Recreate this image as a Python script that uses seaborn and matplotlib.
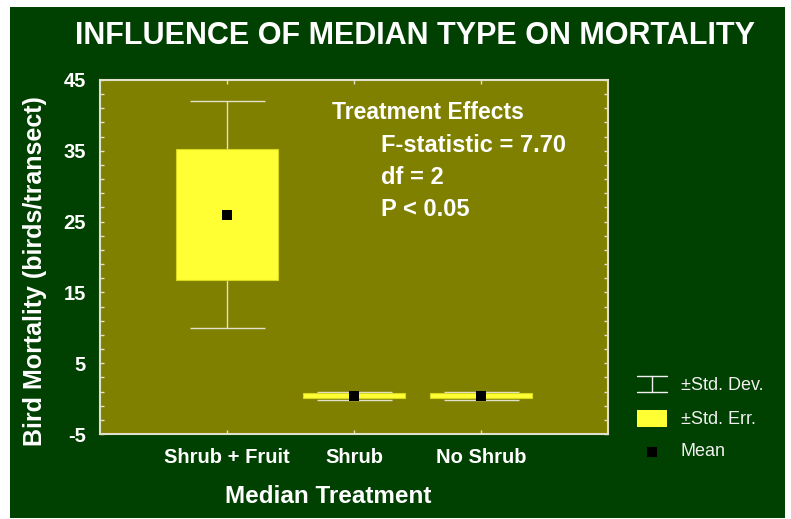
import numpy as np
import matplotlib
matplotlib.use("Agg")
import matplotlib.pyplot as plt
from matplotlib.patches import Rectangle
from matplotlib.lines import Line2D
from matplotlib.ticker import FixedLocator
import seaborn as sns

treatments = ["Shrub + Fruit", "Shrub", "No Shrub"]
means = [26.0, 0.4, 0.4]
std_err = [9.2, 0.35, 0.35]
std_dev = [16.0, 0.6, 0.6]
stats_lines = ["F-statistic = 7.70", "df = 2", "P < 0.05"]

sns.set_style("ticks")
plt.rcParams['font.family'] = ['Liberation Sans', 'DejaVu Sans']
plt.rcParams['axes.unicode_minus'] = False

W, H = 791, 519
bg_green = "#004000"
olive = "#808000"
yellow = "#ffff33"
frame = "#e0e0cc"

fig = plt.figure(figsize=(W / 100, H / 100), dpi=100)
fig.patch.set_facecolor("white")


def fx(px):
    return px / W


def fy(py):
    return 1 - py / H


# dark green panel
fig.add_artist(Rectangle((fx(10), fy(518)), fx(785) - fx(10), fy(7) - fy(518),
                         transform=fig.transFigure, facecolor=bg_green,
                         edgecolor="none", zorder=0))

ax = fig.add_axes([fx(100), fy(434), fx(608) - fx(100), fy(80) - fy(434)])
ax.set_facecolor(olive)

x = np.arange(len(treatments))
means_a = np.array(means)
se_a = np.array(std_err)

ax.errorbar(x, means, yerr=std_dev, fmt="none", ecolor=frame, elinewidth=1.0,
            capsize=27, capthick=1.0, zorder=2)
ax.bar(x, 2 * se_a, bottom=means_a - se_a, width=0.8, color=yellow,
       edgecolor="#d8d820", linewidth=0.8, zorder=3)
sns.scatterplot(x=x, y=means, marker="s", color="black", s=45,
                edgecolor="black", linewidth=0, ax=ax, zorder=4)

ax.set_xlim(-1, 3)
ax.set_ylim(-5, 45)
ax.set_xticks(x)
ax.set_xticklabels(treatments)
ax.set_yticks(np.arange(-5, 46, 10))
ax.yaxis.set_minor_locator(FixedLocator(np.arange(-5, 46, 2)))
ax.tick_params(axis="both", which="both", direction="in", colors=frame,
               top=True, right=True, length=3, width=1)
ax.tick_params(axis="y", which="major", labelcolor="white", labelsize=14.5,
               pad=10)
ax.tick_params(axis="x", which="major", labelcolor="white", labelsize=14.5,
               pad=10)
for lab in ax.get_xticklabels() + ax.get_yticklabels():
    lab.set_fontweight("bold")
for sp in ax.spines.values():
    sp.set_color(frame)
    sp.set_linewidth(1.5)
    sp.set_visible(True)

ax.set_xlabel("Median Treatment", color="white", fontsize=17.5,
              fontweight="bold")
ax.set_ylabel("Bird Mortality (birds/transect)", color="white", fontsize=18,
              fontweight="bold")
ax.xaxis.set_label_coords(0.45, -0.145)
ax.yaxis.set_label_coords(-0.105, 0.46)

# stats annotation
ax.text(0.83, 39.5, "Treatment Effects", color="white", fontsize=16.5,
        fontweight="bold", va="baseline", ha="left")
for i, line in enumerate(stats_lines):
    ax.text(1.21, 34.8 - i * 4.5, line, color="white", fontsize=17,
            fontweight="bold", va="baseline", ha="left")

fig.text(fx(415), fy(36), "INFLUENCE OF MEDIAN TYPE ON MORTALITY",
         color="white", fontsize=22, fontweight="bold", ha="center",
         va="center")

# legend drawn by hand
lc = "#f0f0f0"
fig.add_artist(Line2D([fx(637), fx(667)], [fy(376), fy(376)], color=lc, lw=1,
                      transform=fig.transFigure))
fig.add_artist(Line2D([fx(637), fx(667)], [fy(392), fy(392)], color=lc, lw=1,
                      transform=fig.transFigure))
fig.add_artist(Line2D([fx(652), fx(652)], [fy(376), fy(392)], color=lc, lw=1,
                      transform=fig.transFigure))
fig.add_artist(Rectangle((fx(637), fy(427)), fx(667) - fx(637), fy(410) - fy(427),
                         transform=fig.transFigure, facecolor=yellow,
                         edgecolor="none"))
fig.add_artist(Rectangle((fx(647), fy(457)), fx(657) - fx(647), fy(447) - fy(457),
                         transform=fig.transFigure, facecolor="black",
                         edgecolor="none"))
for label, py in [("±Std. Dev.", 385), ("±Std. Err.", 419), ("Mean", 452)]:
    fig.text(fx(681), fy(py), label, color=lc, fontsize=13, ha="left",
             va="center")

fig.savefig("out.png", dpi=100, facecolor=fig.get_facecolor())
